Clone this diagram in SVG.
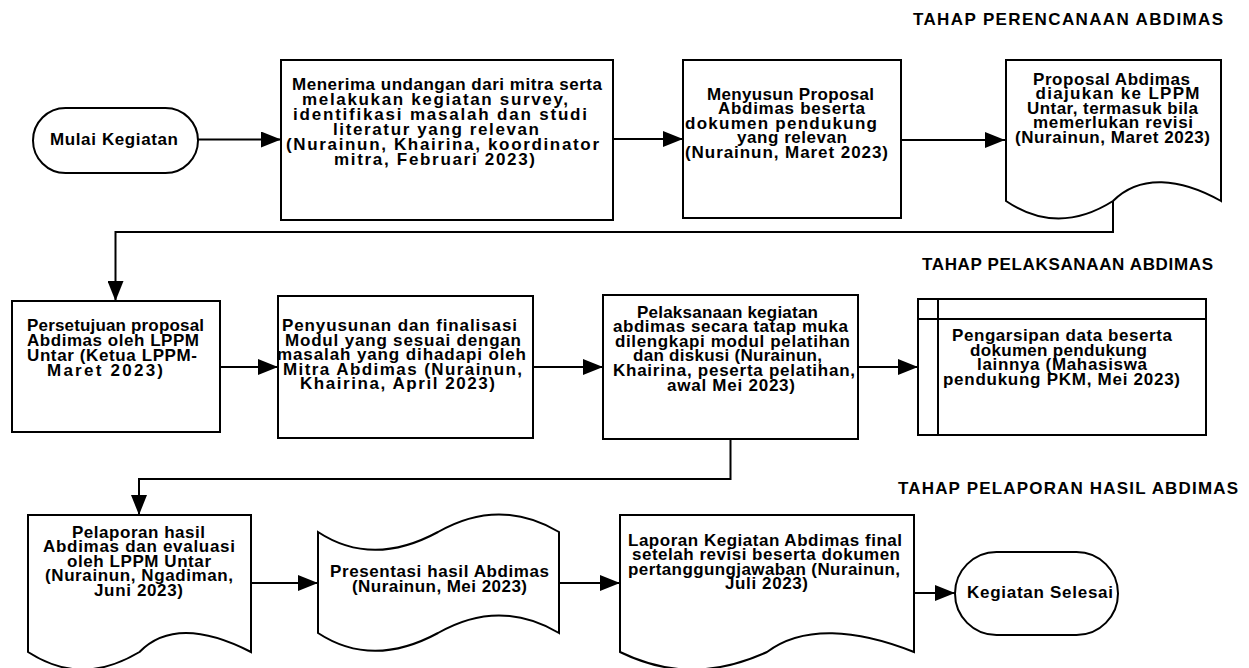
<svg xmlns="http://www.w3.org/2000/svg" width="1249" height="668" viewBox="0 0 1249 668">
<style>
.s{fill:#fff;stroke:#000;stroke-width:2}
.c{fill:none;stroke:#000;stroke-width:2}
text{font-family:"Liberation Sans",Arial,sans-serif;font-weight:bold;font-size:17px;fill:#000;text-anchor:middle}
.t{font-size:17px}
</style>
<defs>
<marker id="arr" markerUnits="userSpaceOnUse" markerWidth="21" markerHeight="16" refX="20" refY="8" orient="auto">
<path d="M0,0 L20,8 L0,16 z" fill="#000"/>
</marker>
</defs>
<rect width="1249" height="668" fill="#fff"/>
<g id="titles">
<text class="t" x="1068" y="25" textLength="310" lengthAdjust="spacing">TAHAP PERENCANAAN ABDIMAS</text>
<text class="t" x="1067.5" y="270" textLength="291" lengthAdjust="spacing">TAHAP PELAKSANAAN ABDIMAS</text>
<text class="t" x="1068" y="493.5" textLength="340" lengthAdjust="spacing">TAHAP PELAPORAN HASIL ABDIMAS</text>
</g>
<g id="connectors">
<path class="c" d="M198,139.5 H281" marker-end="url(#arr)"/>
<path class="c" d="M613,139 H683" marker-end="url(#arr)"/>
<path class="c" d="M901,140 H1005" marker-end="url(#arr)"/>
<path class="c" d="M1113,200 V232 H115.5 V301" marker-end="url(#arr)"/>
<path class="c" d="M220,367 H278" marker-end="url(#arr)"/>
<path class="c" d="M533,367 H603" marker-end="url(#arr)"/>
<path class="c" d="M858,367 H918" marker-end="url(#arr)"/>
<path class="c" d="M730.5,439 V479 H139 V515" marker-end="url(#arr)"/>
<path class="c" d="M251,583 H318" marker-end="url(#arr)"/>
<path class="c" d="M559,583 H620" marker-end="url(#arr)"/>
<path class="c" d="M914,593 H955" marker-end="url(#arr)"/>
</g>
<g id="n1">
<rect class="s" x="33" y="108" width="165" height="65" rx="32.5"/>
<text x="114" y="145" textLength="128" lengthAdjust="spacing">Mulai Kegiatan</text>
</g>
<g id="n2">
<rect class="s" x="281" y="60" width="332" height="160"/>
<text><tspan x="447" y="89.5" textLength="310" lengthAdjust="spacing">Menerima undangan dari mitra serta</tspan><tspan x="435" y="104.5" textLength="266" lengthAdjust="spacing">melakukan kegiatan survey,</tspan><tspan x="440" y="119.5" textLength="294" lengthAdjust="spacing">identifikasi masalah dan studi</tspan><tspan x="436" y="134.5" textLength="206" lengthAdjust="spacing">literatur yang relevan</tspan><tspan x="442.5" y="149.5" textLength="313" lengthAdjust="spacing">(Nurainun, Khairina, koordinator</tspan><tspan x="434.5" y="164.5" textLength="201" lengthAdjust="spacing">mitra, Februari 2023)</tspan></text>
</g>
<g id="n3">
<rect class="s" x="683" y="60" width="218" height="158"/>
<text><tspan x="790.5" y="99.5" textLength="167" lengthAdjust="spacing">Menyusun Proposal</tspan><tspan x="791.5" y="114" textLength="147" lengthAdjust="spacing">Abdimas beserta</tspan><tspan x="781" y="128.5" textLength="192" lengthAdjust="spacing">dokumen pendukung</tspan><tspan x="792" y="143" textLength="110" lengthAdjust="spacing">yang relevan</tspan><tspan x="786.5" y="157.5" textLength="203" lengthAdjust="spacing">(Nurainun, Maret 2023)</tspan></text>
</g>
<g id="n4">
<path class="s" d="M1006,201 V60 H1221 V201 C1180,178 1140,174 1113,201 C1075,225 1040,224 1006,201 Z"/>
<text><tspan x="1111.5" y="84.5" textLength="157" lengthAdjust="spacing">Proposal Abdimas</tspan><tspan x="1117.5" y="99" textLength="164" lengthAdjust="spacing">diajukan ke LPPM</tspan><tspan x="1112.5" y="113.5" textLength="171" lengthAdjust="spacing">Untar, termasuk bila</tspan><tspan x="1113" y="128" textLength="160" lengthAdjust="spacing">memerlukan revisi</tspan><tspan x="1112.5" y="142.5" textLength="195" lengthAdjust="spacing">(Nurainun, Maret 2023)</tspan></text>
</g>
<g id="n5">
<rect class="s" x="12" y="301" width="208" height="131"/>
<text><tspan x="115.5" y="331" textLength="177" lengthAdjust="spacing">Persetujuan proposal</tspan><tspan x="113" y="346" textLength="172" lengthAdjust="spacing">Abdimas oleh LPPM</tspan><tspan x="112" y="361" textLength="170" lengthAdjust="spacing">Untar (Ketua LPPM-</tspan><tspan x="105" y="375.5" textLength="116" lengthAdjust="spacing">Maret 2023)</tspan></text>
</g>
<g id="n6">
<rect class="s" x="278" y="296" width="255" height="142"/>
<text><tspan x="399.5" y="331" textLength="235" lengthAdjust="spacing">Penyusunan dan finalisasi</tspan><tspan x="403" y="345.5" textLength="236" lengthAdjust="spacing">Modul yang sesuai dengan</tspan><tspan x="401.5" y="360" textLength="249" lengthAdjust="spacing">masalah yang dihadapi oleh</tspan><tspan x="402.5" y="374.5" textLength="239" lengthAdjust="spacing">Mitra Abdimas (Nurainun,</tspan><tspan x="397.5" y="389" textLength="195" lengthAdjust="spacing">Khairina, April 2023)</tspan></text>
</g>
<g id="n7">
<rect class="s" x="603" y="295" width="255" height="144"/>
<text><tspan x="727.5" y="317.5" textLength="181" lengthAdjust="spacing">Pelaksanaan kegiatan</tspan><tspan x="730.5" y="332" textLength="235" lengthAdjust="spacing">abdimas secara tatap muka</tspan><tspan x="732.5" y="346.5" textLength="235" lengthAdjust="spacing">dilengkapi modul pelatihan</tspan><tspan x="727.5" y="361" textLength="189" lengthAdjust="spacing">dan diskusi (Nurainun,</tspan><tspan x="734" y="375.5" textLength="242" lengthAdjust="spacing">Khairina, peserta pelatihan,</tspan><tspan x="731" y="390.5" textLength="128" lengthAdjust="spacing">awal Mei 2023)</tspan></text>
</g>
<g id="n8">
<rect class="s" x="918" y="299" width="288" height="136"/>
<path class="c" d="M938,299 V435 M918,319 H1206"/>
<text><tspan x="1062" y="341" textLength="220" lengthAdjust="spacing">Pengarsipan data beserta</tspan><tspan x="1058.5" y="355.5" textLength="177" lengthAdjust="spacing">dokumen pendukung</tspan><tspan x="1062" y="370" textLength="170" lengthAdjust="spacing">lainnya (Mahasiswa</tspan><tspan x="1061.5" y="384.5" textLength="237" lengthAdjust="spacing">pendukung PKM, Mei 2023)</tspan></text>
</g>
<g id="n9">
<path class="s" d="M28,652 V515 H251 V652 C206,629 166,625 139.5,652 C99,676 64,675 28,652 Z"/>
<text><tspan x="138.5" y="537.5" textLength="133" lengthAdjust="spacing">Pelaporan hasil</tspan><tspan x="139" y="552" textLength="192" lengthAdjust="spacing">Abdimas dan evaluasi</tspan><tspan x="139" y="566.5" textLength="144" lengthAdjust="spacing">oleh LPPM Untar</tspan><tspan x="139" y="581" textLength="188" lengthAdjust="spacing">(Nurainun, Ngadiman,</tspan><tspan x="138.5" y="595.5" textLength="89" lengthAdjust="spacing">Juni 2023)</tspan></text>
</g>
<g id="n10">
<path class="s" d="M318,532 C350,553 390,558 438,532 C480,508 520,509 559,532 V633 C520,610 480,609 438,633 C390,659 350,654 318,633 Z"/>
<text><tspan x="439.5" y="577" textLength="219" lengthAdjust="spacing">Presentasi hasil Abdimas</tspan><tspan x="439.5" y="592" textLength="175" lengthAdjust="spacing">(Nurainun, Mei 2023)</tspan></text>
</g>
<g id="n11">
<path class="s" d="M620,652 V515 H914 V652 C856,629 803,625 767,652 C714,676 667,675 620,652 Z"/>
<text><tspan x="765" y="545.5" textLength="274" lengthAdjust="spacing">Laporan Kegiatan Abdimas final</tspan><tspan x="766" y="560" textLength="268" lengthAdjust="spacing">setelah revisi beserta dokumen</tspan><tspan x="764" y="574.5" textLength="272" lengthAdjust="spacing">pertanggungjawaban (Nurainun,</tspan><tspan x="766.5" y="589" textLength="83" lengthAdjust="spacing">Juli 2023)</tspan></text>
</g>
<g id="n12">
<rect class="s" x="955" y="552" width="163" height="83" rx="41.5"/>
<text x="1040" y="598" textLength="146" lengthAdjust="spacing">Kegiatan Selesai</text>
</g>
</svg>
